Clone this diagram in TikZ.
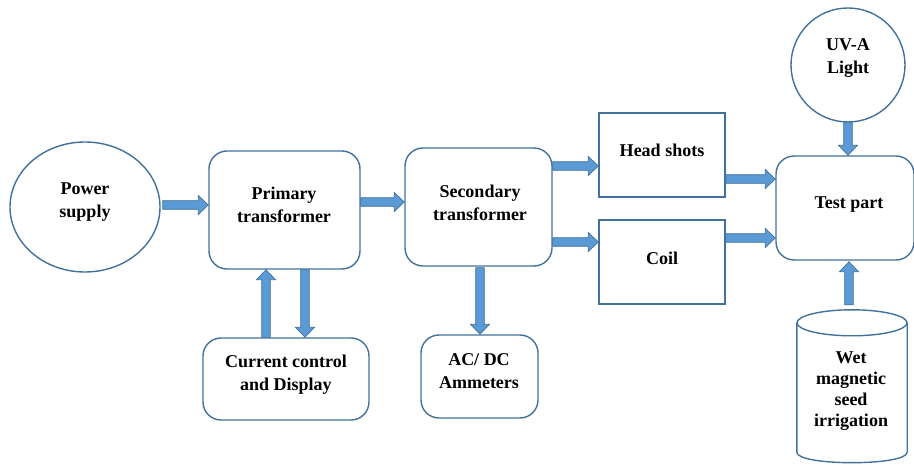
\documentclass[tikz,border=0pt]{standalone}
\usepackage{fontspec}
\setmainfont{Liberation Serif}
\usetikzlibrary{calc,shapes.geometric}
\definecolor{arrfill}{HTML}{5B9BD5}
\definecolor{arrline}{HTML}{41719C}
\definecolor{boxline}{HTML}{41719C}
\tikzset{
  rbox/.style={draw=boxline, line width=1.4pt, rounded corners=18pt, inner sep=0pt},
  sbox/.style={draw=boxline, line width=1.4pt, inner sep=0pt},
  ellbox/.style={draw=boxline, line width=1.4pt, ellipse, inner sep=0pt},
  txt/.style={align=center, inner sep=0pt, font=\fontsize{18}{23}\selectfont\bfseries},
  blockarr/.style={fill=arrfill, draw=arrline, line width=0.7pt, line join=miter}
}
\newcommand\blockarrow[2]{%
  \path (#1) coordinate (ba-s) (#2) coordinate (ba-e);
  \path ($(ba-e)!10pt!(ba-s)$) coordinate (ba-h);
  \filldraw[blockarr] ($(ba-s)!4.3pt!90:(ba-e)$) -- ($(ba-h)!4.3pt!90:(ba-e)$)
    -- ($(ba-h)!9.5pt!90:(ba-e)$) -- (ba-e) -- ($(ba-h)!9.5pt!-90:(ba-e)$)
    -- ($(ba-h)!4.3pt!-90:(ba-e)$) -- ($(ba-s)!4.3pt!-90:(ba-e)$) -- cycle;}
\begin{document}
\begin{tikzpicture}[x=1pt,y=-1pt]
\useasboundingbox (0,0) rectangle (914,468);
% shapes
\node[ellbox, minimum width=150pt, minimum height=130pt] (ps) at (85,207) {};
\node[rbox, minimum width=151pt, minimum height=118pt] (prim) at (284.5,210) {};
\node[rbox, minimum width=147pt, minimum height=118pt] (sec) at (478.5,207) {};
\node[sbox, minimum width=126pt, minimum height=84pt] (hs) at (662,155) {};
\node[sbox, minimum width=126pt, minimum height=84pt] (coil) at (662,262) {};
\node[rbox, minimum width=138pt, minimum height=104pt] (tp) at (845,208) {};
\node[draw=boxline, line width=1.4pt, circle, minimum size=114pt, inner sep=0pt] (uv) at (848,65) {};
\node[rbox, minimum width=166pt, minimum height=82pt] (cc) at (286,379) {};
\node[rbox, minimum width=117pt, minimum height=83pt] (ac) at (479.5,376.5) {};
\node[minimum width=110pt, minimum height=155pt, inner sep=0pt] (cyl) at (852,387.5) {};
\draw[draw=boxline, line width=1.4pt]
  ($(cyl.north west)+(0,13)$) -- ($(cyl.south west)+(0,-13)$)
  .. controls ($(cyl.south west)+(0,1)$) and ($(cyl.south east)+(0,1)$) .. ($(cyl.south east)+(0,-13)$)
  -- ($(cyl.north east)+(0,13)$);
\draw[draw=boxline, line width=1.4pt] ($(cyl.north)+(0,13)$) ellipse [x radius=55, y radius=13];
% texts
\node[txt] (ps-t) at (85,202) {Power\\supply};
\node[txt] (prim-t) at (284,205) {Primary\\transformer};
\node[txt] (sec-t) at (480,202.5) {Secondary\\transformer};
\node[txt] (hs-t) at (662,150) {Head shots};
\node[txt] (coil-t) at (662,258) {Coil};
\node[txt] (tp-t) at (849,205) {Test part};
\node[txt] (uv-t) at (848,58) {UV-A\\Light};
\node[txt] (cc-t) at (286,374.5) {Current control\\and Display};
\node[txt] (ac-t) at (479,371.5) {AC/ DC\\Ammeters};
\node[txt, font=\fontsize{18}{21}\selectfont\bfseries] (cyl-t) at (851,391) {Wet\\magnetic\\seed\\irrigation};
% connector anchor points
\coordinate (a1s) at ($(ps.east)+(2,-2)$);
\coordinate (a2s) at ($(prim.east)+(0,-8)$);
\coordinate (a3s) at ($(sec.east)+(0,-41)$);
\coordinate (a4s) at ($(sec.east)+(0,35)$);
\coordinate (a5s) at ($(hs.east)+(0,24)$);
\coordinate (a6s) at ($(coil.east)+(0,-24)$);
\coordinate (a7s) at ($(prim.south)+(20.5,0)$);
\coordinate (a8s) at ($(cc.north)+(-20,0)$);
\coordinate (a9s) at ($(sec.south)+(1.5,1)$);
% connectors
\blockarrow{a1s}{prim.west |- a1s}
\blockarrow{a2s}{sec.west |- a2s}
\blockarrow{a3s}{hs.west |- a3s}
\blockarrow{a4s}{coil.west |- a4s}
\blockarrow{a5s}{tp.west |- a5s}
\blockarrow{a6s}{tp.west |- a6s}
\blockarrow{a7s}{a7s |- cc.north}
\blockarrow{a8s}{a8s |- prim.south}
\blockarrow{a9s}{a9s |- ac.north}
\blockarrow{uv.south}{uv.south |- tp.north}
\blockarrow{$(cyl.north)+(-3,-5)$}{$(tp.south)+(4,1)$}
\end{tikzpicture}
\end{document}
